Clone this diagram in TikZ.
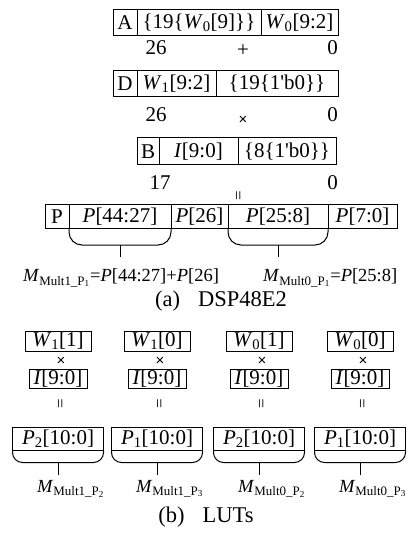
\documentclass[tikz,border=0pt]{standalone}
\usepackage{fontspec}
\setmainfont{Liberation Serif}
\newfontfamily\symfont{Liberation Sans}
\usetikzlibrary{calc}
\newcommand{\boxfont}{\fontsize{21}{23}\selectfont}
\newcommand{\lblfont}{\fontsize{18.5}{20}\selectfont}
\newcommand{\capfont}{\fontsize{22.5}{24}\selectfont}
\newcommand{\eqfont}{\fontsize{17}{18}\selectfont}
\newcommand{\opfont}{\symfont\fontsize{15}{15}\selectfont}
\newcommand{\vi}[1]{\textit{#1}}
\begin{document}
\begin{tikzpicture}[x=1pt,y=-1pt,
  cellbox/.style={draw, line width=1pt, inner sep=0pt, outer sep=0pt, anchor=north west, font=\boxfont},
  smallbox/.style={draw, line width=1pt, inner sep=0pt, outer sep=0pt, font=\boxfont},
  numtxt/.style={inner sep=0pt, font=\boxfont},
  optxt/.style={inner sep=0pt, font=\opfont},
  plustxt/.style={inner sep=0pt, font=\boxfont},
  eqtxt/.style={inner sep=0pt, font=\eqfont, rotate=90},
  lbltxt/.style={inner sep=0pt, font=\lblfont},
  captxt/.style={inner sep=0pt, font=\capfont},
  bracket/.style={draw, line width=1pt, rounded corners=13pt},
  tray/.style={draw, line width=1pt, rounded corners=10pt},
  tick/.style={draw, line width=1pt}]
\useasboundingbox (0,0) rectangle (413,534);
% ---- row A
\node[cellbox, minimum width=24, minimum height=26] (A0) at (113,10) {A};
\node[cellbox, minimum width=124, minimum height=26] (A1) at (A0.north east) {\{19\{\vi{W}\textsubscript{0}[9]\}\}};
\node[cellbox, minimum width=77, minimum height=26] (A2) at (A1.north east) {\vi{W}\textsubscript{0}[9:2]};
\node[numtxt] (nA26) at (156,48) {26};
\node[plustxt] (plus) at (243,51) {+};
\node[numtxt, anchor=east] (nA0) at (338,48) {0};
% ---- row D
\node[cellbox, minimum width=24, minimum height=26] (D0) at (113,71) {D};
\node[cellbox, minimum width=79, minimum height=26] (D1) at (D0.north east) {\vi{W}\textsubscript{1}[9:2]};
\node[cellbox, minimum width=122, minimum height=26] (D2) at (D1.north east) {\{19\{1\textquotesingle b0\}\}};
\node[numtxt] (nD26) at (156,115) {26};
\node[optxt] (times) at (243,120) {×};
\node[numtxt, anchor=east] (nD0) at (338,115) {0};
% ---- row B
\node[cellbox, minimum width=22, minimum height=27] (B0) at (137,138) {B};
\node[cellbox, minimum width=79, minimum height=27] (B1) at (B0.north east) {\vi{I}[9:0]};
\node[cellbox, minimum width=98, minimum height=27] (B2) at (B1.north east) {\{8\{1\textquotesingle b0\}\}};
\node[numtxt] (nB17) at (160,183) {17};
\node[numtxt, anchor=east] (nB0) at (338,183) {0};
\node[eqtxt] (eqa) at (240,196) {=};
% ---- row P
\node[cellbox, minimum width=24, minimum height=23] (P0) at (45,205) {P};
\node[cellbox, minimum width=102, minimum height=23] (P1) at (P0.north east) {\vi{P}[44:27]};
\node[cellbox, minimum width=57, minimum height=23] (P2) at (P1.north east) {\vi{P}[26]};
\node[cellbox, minimum width=100, minimum height=23] (P3) at (P2.north east) {\vi{P}[25:8]};
\node[cellbox, minimum width=69, minimum height=23] (P4) at (P3.north east) {\vi{P}[7:0]};
\draw[bracket] (P1.south west) -- ++(0,17) -| (P1.south east);
\draw[bracket] (P3.south west) -- ++(0,17) -| (P3.south east);
\coordinate (T1) at ($(P1.south)+(0,17)$);
\coordinate (T1e) at ($(T1)+(0,12)$);
\coordinate (T3) at ($(P3.south)+(0,17)$);
\coordinate (T3e) at ($(T3)+(0,12)$);
\draw[tick] (T1) -- (T1e);
\draw[tick] (T3) -- (T3e);
\node[lbltxt] (M1) at (121,278) {\vi{M}\textsubscript{Mult1\_P\textsubscript{1}}=\vi{P}[44:27]+\vi{P}[26]};
\node[lbltxt, anchor=west] (M2) at (263,278) {\vi{M}\textsubscript{Mult0\_P\textsubscript{1}}=\vi{P}[25:8]};
\node[captxt] (capa) at (221,301) {(a)\hspace{0.8em}DSP48E2};
% ---- part (b)
\foreach \i/\cx/\w/\p/\lab in {1/58/{\vi{W}\textsubscript{1}[1]}/{\vi{P}\textsubscript{2}[10:0]}/{Mult1\_P\textsubscript{2}},
                                2/157/{\vi{W}\textsubscript{1}[0]}/{\vi{P}\textsubscript{1}[10:0]}/{Mult1\_P\textsubscript{3}},
                                3/259/{\vi{W}\textsubscript{0}[1]}/{\vi{P}\textsubscript{2}[10:0]}/{Mult0\_P\textsubscript{2}},
                                4/360/{\vi{W}\textsubscript{0}[0]}/{\vi{P}\textsubscript{1}[10:0]}/{Mult0\_P\textsubscript{3}}}{
  \node[smallbox, minimum width=66, minimum height=20] (W\i) at (\cx,341) {\w};
  \node[optxt] (X\i) at ($(W\i.center)+(3,20)$) {×};
  \node[smallbox, minimum width=58, minimum height=19] (I\i) at (\cx,379) {\vi{I}[9:0]};
  \node[eqtxt] (E\i) at ($(I\i.center)+(4,25)$) {=};
  \node[smallbox, minimum width=91, minimum height=23] (Q\i) at (\cx,439) {\p};
  \draw[tray] (Q\i.south west) -- ++(0,12) -| (Q\i.south east);
  \coordinate (U\i) at ($(Q\i.south)+(0,12)$);
  \coordinate (U\i e) at ($(U\i)+(0,12)$);
  \draw[tick] (U\i) -- (U\i e);
  \node[lbltxt, anchor=west] (L\i) at ($(U\i)+(-21,26)$) {\vi{M}\textsubscript{\lab}};
}
\node[captxt] (capb) at (206,517) {(b)\hspace{0.8em}LUTs};
\end{tikzpicture}
\end{document}
